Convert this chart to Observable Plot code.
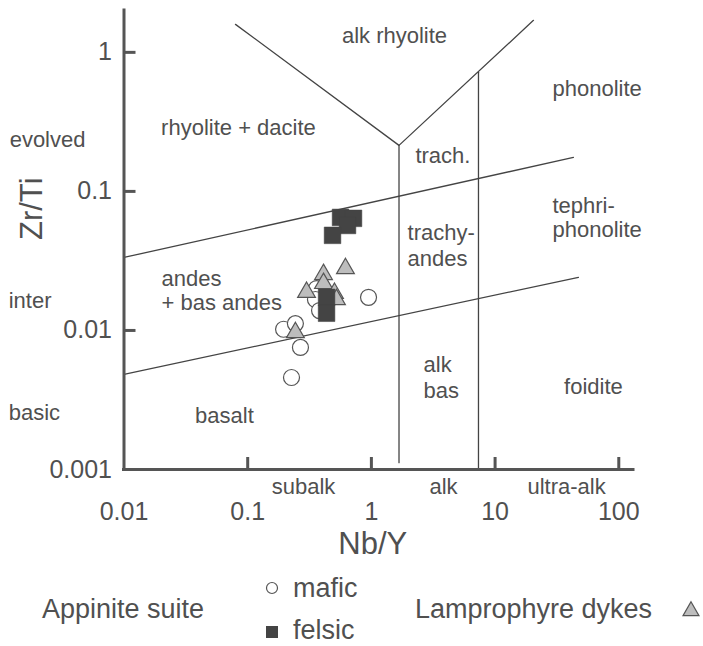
<!DOCTYPE html>
<html>
<head>
<meta charset="utf-8">
<script src="https://cdn.jsdelivr.net/npm/d3@7"></script>
<script src="https://cdn.jsdelivr.net/npm/@observablehq/plot@0.6"></script>
<style>
  html, body { margin: 0; padding: 0; background: #fff; }
  #chart { width: 703px; }
  svg { display: block; }
</style>
</head>
<body>
<div id="chart"></div>
<script>
// ---- axis ticks ----
const xTicks = [0.01, 0.1, 1, 10, 100];
const xTickLabels = ["0.01", "0.1", "1", "10", "100"];
const yTicks = [0.001, 0.01, 0.1, 1];
const yTickLabels = ["0.001", "0.01", "0.1", "1"];

// ---- data: Nb/Y (x) and Zr/Ti (y) ----
const maficNbY  = [0.195, 0.243, 0.267, 0.226, 0.948, 0.360, 0.353, 0.381];
const maficZrTi = [0.0102, 0.0112, 0.00755, 0.00459, 0.0173, 0.0200, 0.0167, 0.0139];

const felsicNbY  = [0.563, 0.717, 0.641, 0.485, 0.434, 0.434];
const felsicZrTi = [0.0650, 0.0640, 0.0569, 0.0483, 0.0173, 0.0133];

const dykeNbY  = [0.410, 0.617, 0.299, 0.410, 0.503, 0.522, 0.243];
const dykeZrTi = [0.0253, 0.0279, 0.0188, 0.0218, 0.0185, 0.0167, 0.00967];

// ---- classification field boundaries (Nb/Y, Zr/Ti) ----
const upperBoundary = [[0.01, 0.0335], [43.0, 0.1756]];
const lowerBoundary = [[0.01, 0.00483], [47.2, 0.0241]];
const vBoundary = [[0.0797, 1.59], [1.672, 0.2143], [20.43, 1.699]];
const subalkAlkBoundary = [[1.672, 0.2143], [1.672, 0.00112]];
const alkUltraBoundary = [[7.34, 0.001], [7.34, 0.718]];

// ---- field labels ----
const startLabels = ["evolved", "inter", "basic", "andes", "+ bas andes", "trach.", "trachy-", "andes", "alk", "bas", "phonolite", "tephri-", "phonolite"];
const startLabelX = [0.00119, 0.00117, 0.00117, 0.0201, 0.0201, 2.27, 1.96, 1.96, 2.64, 2.64, 29.1, 29.1, 29.1];
const startLabelY = [0.2347, 0.01643, 0.00255, 0.02348, 0.01564, 0.1785, 0.04985, 0.03242, 0.005646, 0.003702, 0.5418, 0.07865, 0.05284];

const midLabels = ["alk rhyolite", "rhyolite + dacite", "basalt", "foidite", "subalk", "alk", "ultra-alk"];
const midLabelX = [1.537, 0.0842, 0.0649, 62.4, 0.2826, 3.83, 37.8];
const midLabelY = [1.303, 0.2839, 0.002446, 0.003922, 0.000755, 0.000755, 0.000755];

const legendGroup = "Appinite suite";
const legendMafic = "mafic";
const legendFelsic = "felsic";
const legendDykes = "Lamprophyre dykes";

// ---- build tables ----
const zip = (xs, ys) => xs.map((x, i) => ({x, y: ys[i]}));
const mafic = zip(maficNbY, maficZrTi);
const felsic = zip(felsicNbY, felsicZrTi);
const dykes = zip(dykeNbY, dykeZrTi);
const startTbl = startLabels.map((t, i) => ({t, x: startLabelX[i], y: startLabelY[i]}));
const midTbl = midLabels.map((t, i) => ({t, x: midLabelX[i], y: midLabelY[i]}));
const xFmt = new Map(xTicks.map((d, i) => [d, xTickLabels[i]]));
const yFmt = new Map(yTicks.map((d, i) => [d, yTickLabels[i]]));

const ink = "#505050";
const lineInk = "#444";
const font = "'Liberation Sans', Arial, Helvetica, sans-serif";

const seg = (pts) => Plot.line(pts, {x: d => d[0], y: d => d[1], stroke: lineInk, strokeWidth: 1.3});

const plot = Plot.plot({
  width: 703,
  height: 570,
  marginLeft: 123.5,
  marginRight: 70,
  marginTop: 10,
  marginBottom: 101,
  x: {type: "log", domain: [0.01, 131.5]},
  y: {type: "log", domain: [0.001, 2.0]},
  style: {fontFamily: font, color: ink, background: "white", overflow: "visible"},
  marks: [
    seg(upperBoundary),
    seg(lowerBoundary),
    seg(vBoundary),
    seg(subalkAlkBoundary),
    seg(alkUltraBoundary),
    Plot.text(startTbl, {x: "x", y: "y", text: "t", textAnchor: "start", fontSize: 22, fill: ink}),
    Plot.text(midTbl, {x: "x", y: "y", text: "t", textAnchor: "middle", fontSize: 22, fill: ink}),
    Plot.dot(mafic, {x: "x", y: "y", r: 8, fill: "white", stroke: "#555", strokeWidth: 1.2}),
    Plot.dot(dykes, {x: "x", y: "y", symbol: "triangle", r: 6.6, fill: "#bdbdbd", stroke: "#555", strokeWidth: 1.2}),
    Plot.dot(felsic, {x: "x", y: "y", symbol: "square", r: 9.4, fill: "#444", stroke: "#444", strokeWidth: 0.5}),
    Plot.ruleY([0.001], {stroke: "#555", strokeWidth: 3, strokeLinecap: "square"}),
    Plot.ruleX([0.01], {stroke: "#555", strokeWidth: 3, strokeLinecap: "square"}),
    Plot.ruleX(xTicks.slice(1), {stroke: "#555", strokeWidth: 3, insetTop: 447}),
    Plot.ruleY(yTicks.slice(1), {stroke: "#555", strokeWidth: 3, insetRight: 497.5}),
    Plot.axisX({ticks: xTicks, tickSize: 0, tickPadding: 33, tickFormat: d => xFmt.get(d), fontSize: 25, fill: ink, label: null}),
    Plot.axisY({ticks: yTicks, tickSize: 0, tickPadding: 12, tickFormat: d => yFmt.get(d), fontSize: 25, fill: ink, label: null}),
    Plot.text(["Nb/Y"], {frameAnchor: "bottom", dx: -6, dy: 84, fontSize: 31, fill: ink}),
    Plot.text(["Zr/Ti"], {frameAnchor: "left", rotate: -90, dx: -91.5, fontSize: 31, fill: ink})
  ]
});

document.getElementById("chart").appendChild(plot);

// ---- legend below the plot ----
const lg = d3.create("svg").attr("width", 703).attr("height", 76)
  .style("font-family", font).style("overflow", "visible");
lg.append("text").attr("x", 42).attr("y", 48).attr("font-size", 27).attr("fill", ink).text(legendGroup);
lg.append("circle").attr("cx", 272).attr("cy", 18).attr("r", 5.5).attr("fill", "white").attr("stroke", "#555").attr("stroke-width", 1.2);
lg.append("text").attr("x", 293).attr("y", 27).attr("font-size", 27).attr("fill", ink).text(legendMafic);
lg.append("rect").attr("x", 266).attr("y", 56).attr("width", 12).attr("height", 12).attr("fill", "#444");
lg.append("text").attr("x", 293).attr("y", 69).attr("font-size", 27).attr("fill", ink).text(legendFelsic);
lg.append("text").attr("x", 415).attr("y", 48).attr("font-size", 27).attr("fill", ink).text(legendDykes);
lg.append("path").attr("transform", "translate(691,41)")
  .attr("d", d3.symbol(d3.symbolTriangle, 110)())
  .attr("fill", "#bdbdbd").attr("stroke", "#555").attr("stroke-width", 1.2);
document.getElementById("chart").appendChild(lg.node());
</script>
</body>
</html>
